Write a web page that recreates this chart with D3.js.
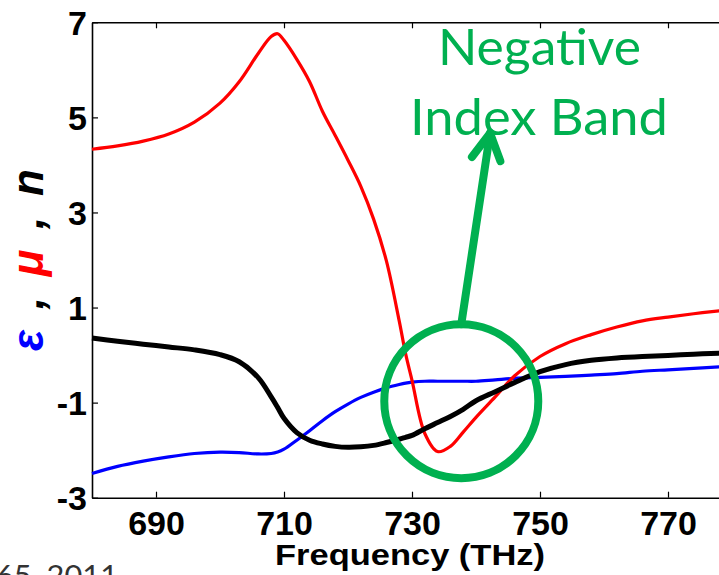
<!DOCTYPE html>
<html><head><meta charset="utf-8">
<script src="https://cdn.jsdelivr.net/npm/d3@7"></script>
<style>body{margin:0;background:#fff;overflow:hidden}</style>
</head><body><svg id="c" width="719" height="575"></svg>
<script>
const freq = [680,684,688,692,696,700,703,706,708,709,710,712,714,716,718,720,722,724,726,728,729,730,732,734,736,738,740,743,746,750,754,758,762,766,770,774,778,780];
const mu   = [4.33,4.40,4.50,4.65,4.90,5.30,5.75,6.35,6.70,6.76,6.62,6.22,5.75,5.13,4.62,4.10,3.55,2.86,1.98,0.72,0.03,-0.53,-1.65,-2.03,-1.92,-1.62,-1.31,-0.88,-0.44,-0.03,0.24,0.43,0.59,0.72,0.80,0.87,0.93,0.96];
const nIdx = [0.36,0.29,0.23,0.17,0.11,0.01,-0.14,-0.48,-0.88,-1.10,-1.33,-1.63,-1.79,-1.87,-1.92,-1.94,-1.93,-1.90,-1.84,-1.77,-1.73,-1.69,-1.55,-1.42,-1.29,-1.14,-0.96,-0.77,-0.58,-0.35,-0.20,-0.11,-0.06,-0.03,-0.01,0.02,0.04,0.05];
const eps  = [-2.49,-2.34,-2.23,-2.14,-2.07,-2.04,-2.05,-2.08,-2.07,-2.04,-1.98,-1.79,-1.59,-1.38,-1.19,-1.03,-0.89,-0.78,-0.69,-0.62,-0.59,-0.57,-0.55,-0.55,-0.55,-0.55,-0.55,-0.52,-0.49,-0.47,-0.45,-0.42,-0.39,-0.34,-0.31,-0.28,-0.25,-0.24];
const xTicks = [690,710,730,750,770];
const yTicks = [-3,-1,1,3,5,7];
const bandCenter = [737.7,-0.97];
const arrowTail = [737.7,0.65];
const arrowTip = [742.2,4.67];

const svg = d3.select('#c');
const x = d3.scaleLinear().domain([680,780]).range([92,732]);
const y = d3.scaleLinear().domain([-3,7]).range([497.7,22.3]);
const font = "'Liberation Sans', Arial, sans-serif";
const fmt = d => String(d);

// axes
const gL = svg.append('g').attr('transform','translate(92,0)')
  .call(d3.axisLeft(y).tickValues(yTicks).tickSizeInner(-6).tickSizeOuter(0).tickPadding(5).tickFormat(fmt));
const gT = svg.append('g').attr('transform','translate(0,22.3)')
  .call(d3.axisTop(x).tickValues(xTicks).tickSizeInner(-6).tickSizeOuter(0).tickFormat(''));
const gB = svg.append('g').attr('transform','translate(0,497.7)')
  .call(d3.axisBottom(x).tickValues(xTicks).tickSizeInner(-6).tickSizeOuter(0).tickPadding(13).tickFormat(fmt));
[gL,gT,gB].forEach(g=>{
  g.selectAll('path.domain').attr('stroke','#000').attr('stroke-width',1.6);
  g.selectAll('.tick line').attr('stroke','#000').attr('stroke-width',1.2);
  g.selectAll('text').attr('font-family',font).attr('font-weight','bold').attr('font-size',34).attr('fill','#000');
});
gL.selectAll('text').attr('dy','0.36em');

// lines
const line = d3.line().x((d,i)=>x(freq[i])).y(d=>y(d)).curve(d3.curveCatmullRom);
svg.append('path').datum(eps).attr('d',line).attr('fill','none').attr('stroke','#0000ff').attr('stroke-width',3.2).attr('stroke-linejoin','round');
svg.append('path').datum(mu).attr('d',line).attr('fill','none').attr('stroke','#ff0000').attr('stroke-width',3.2).attr('stroke-linejoin','round');
svg.append('path').datum(nIdx).attr('d',line).attr('fill','none').attr('stroke','#000').attr('stroke-width',5).attr('stroke-linejoin','round');

// axis labels
svg.append('text').attr('x',410).attr('y',565).attr('text-anchor','middle')
  .attr('font-family',font).attr('font-weight','bold').attr('font-size',29)
  .attr('textLength',270).attr('lengthAdjust','spacingAndGlyphs').text('Frequency (THz)');
const yl = svg.append('text').attr('transform','translate(43,260) rotate(-90)').attr('text-anchor','middle')
  .attr('font-family',font).attr('font-weight','bold').attr('font-style','italic').attr('font-size',44)
  .attr('textLength',182).attr('lengthAdjust','spacing');
yl.append('tspan').attr('fill','#0000ff').text('ε');
yl.append('tspan').attr('fill','#000').text(' , ');
yl.append('tspan').attr('fill','#ff0000').text('μ');
yl.append('tspan').attr('fill','#000').text(' , ');
yl.append('tspan').attr('fill','#000').text('n');

// annotation
const green = '#00B050';
svg.append('circle').attr('cx',x(bandCenter[0])).attr('cy',y(bandCenter[1])).attr('r',77)
  .attr('fill','none').attr('stroke',green).attr('stroke-width',8);
const tx=x(arrowTip[0]), ty=y(arrowTip[1]), sx=x(arrowTail[0]), sy=y(arrowTail[1]);
const ang = Math.atan2(ty-sy, tx-sx), L=30, a=0.5;
svg.append('line').attr('x1',sx).attr('y1',sy).attr('x2',tx).attr('y2',ty)
  .attr('stroke',green).attr('stroke-width',8).attr('stroke-linecap','round');
svg.append('polyline').attr('points',[
  [tx-L*Math.cos(ang-a), ty-L*Math.sin(ang-a)],[tx,ty],[tx-L*Math.cos(ang+a), ty-L*Math.sin(ang+a)]
].map(p=>p.join(',')).join(' '))
  .attr('fill','none').attr('stroke',green).attr('stroke-width',8).attr('stroke-linecap','round').attr('stroke-linejoin','round');
svg.append('text').attr('x',539.5).attr('y',65).attr('text-anchor','middle').attr('fill',green)
  .attr('font-family',"Lato, 'Open Sans', sans-serif").attr('font-size',50)
  .attr('textLength',203).attr('lengthAdjust','spacingAndGlyphs').text('Negative');
svg.append('text').attr('x',539).attr('y',135).attr('text-anchor','middle').attr('fill',green)
  .attr('font-family',"Lato, 'Open Sans', sans-serif").attr('font-size',50)
  .attr('textLength',258).attr('lengthAdjust','spacingAndGlyphs').text('Index Band');

// citation fragment (cut at the bottom edge, as in the reference)
svg.append('text').attr('x',-4).attr('y',586).attr('fill','#333')
  .attr('font-family',"Lato, 'Open Sans', sans-serif").attr('font-size',28)
  .attr('textLength',122).attr('lengthAdjust','spacingAndGlyphs').text('65, 2011');
</script></body></html>
